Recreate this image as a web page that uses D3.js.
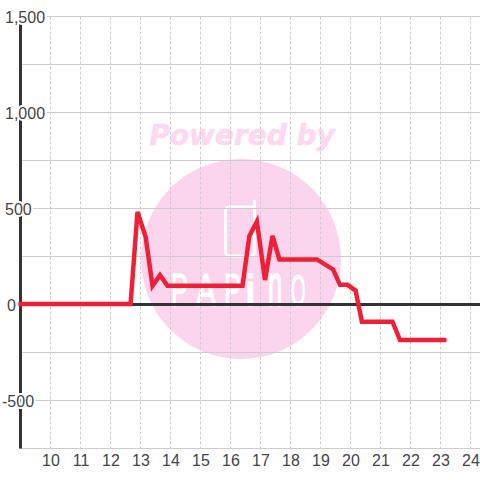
<!DOCTYPE html>
<html>
<head>
<meta charset="utf-8">
<script src="https://cdn.jsdelivr.net/npm/d3@7"></script>
<style>
  html, body { margin: 0; padding: 0; background: #fff; }
  svg { display: block; }
  text { font-family: "Liberation Sans", Arial, sans-serif; font-size: 16px; fill: #444; }
  .watermark-title { font-family: "DejaVu Sans", sans-serif; font-size: 28px; font-weight: bold; font-style: italic; fill: #fcd9f0; stroke: #fcd9f0; stroke-width: 0.6; }
  .watermark-name { font-size: 30px; fill: #fff; stroke: #fff; stroke-width: 0.8; }
</style>
</head>
<body>
<div id="chart"></div>
<script>
// values
var seriesX = [8.93, 12.67, 12.9, 13.17, 13.4, 13.65, 13.9, 16.4, 16.63, 16.88, 17.15, 17.4, 17.63, 18.88, 19.42, 19.65, 19.9, 20.17, 20.38, 21.4, 21.65, 23.2];
var seriesY = [0, 0, 480, 350, 95, 150, 95, 95, 355, 430, 125, 355, 232, 232, 180, 100, 100, 70, -92, -92, -188, -188];
var xTicks = [10, 11, 12, 13, 14, 15, 16, 17, 18, 19, 20, 21, 22, 23, 24];
var yGrid = [1500, 1250, 1000, 750, 500, 250, 0, -250, -500, -750];
var yTicks = [1500, 1000, 500, 0, -500];
var logoLetters = ["P", "A", "P", "i", "n", "O"];

// logo letters are stretched one by one: x, x scale, y scale
var logoX = [171, 196, 224, 245, 268, 291];
var logoSx = [0.85, 1, 0.85, 1.6, 0.85, 0.62];
var logoSy = [1.55, 1.55, 1.55, 1.45, 2.05, 1.5];

var width = 480, height = 480;

var x = d3.scaleLinear().domain([9, 24]).range([20.5, 470.5]);
var y = d3.scaleLinear().domain([1500, -750]).range([16.5, 448.5]);

var svg = d3.select("#chart").append("svg")
    .attr("width", width)
    .attr("height", height);

// watermark sits under the grid
var mark = svg.append("g");
mark.append("circle")
    .attr("cx", 241).attr("cy", 259).attr("r", 100)
    .attr("fill", "#fbd5ee");
mark.append("text")
    .attr("class", "watermark-title")
    .attr("x", 242).attr("y", 145)
    .attr("text-anchor", "middle")
    .text("Powered by");
mark.append("path")
    .attr("d", "M254.5 201 V252 Q254.5 256 250 256 H230 Q225.5 256 225.5 251 V212 Q225.5 207 230 207 H254.5")
    .attr("fill", "none")
    .attr("stroke", "#fff")
    .attr("stroke-width", 3)
    .attr("stroke-linecap", "round");
mark.selectAll(".watermark-name")
    .data(logoLetters)
    .enter().append("text")
    .attr("class", "watermark-name")
    .attr("transform", function(d, i) {
      return "translate(" + logoX[i] + ",306) scale(" + logoSx[i] + "," + logoSy[i] + ")";
    })
    .text(function(d) { return d; });

// grid
svg.append("g").selectAll("line")
    .data(yGrid)
    .enter().append("line")
    .attr("x1", 20).attr("x2", width)
    .attr("y1", function(d) { return y(d); })
    .attr("y2", function(d) { return y(d); })
    .attr("stroke", "#ccc");

svg.append("g").selectAll("line")
    .data(xTicks)
    .enter().append("line")
    .attr("x1", function(d) { return x(d); })
    .attr("x2", function(d) { return x(d); })
    .attr("y1", y(1500)).attr("y2", y(-750))
    .attr("stroke", "#ccc")
    .attr("stroke-dasharray", "3,2");

// axis lines
svg.append("line")
    .attr("x1", x(9)).attr("x2", x(9))
    .attr("y1", y(1500)).attr("y2", y(-750))
    .attr("stroke", "#333").attr("stroke-width", 3);
svg.append("line")
    .attr("x1", x(9)).attr("x2", width)
    .attr("y1", y(0)).attr("y2", y(0))
    .attr("stroke", "#333").attr("stroke-width", 3);

// tick labels
var xAxis = d3.axisBottom(x).tickValues(xTicks).tickSize(0).tickFormat(d3.format("d"));
var xG = svg.append("g").attr("transform", "translate(0,448)").call(xAxis);
xG.select(".domain").remove();
xG.selectAll("text")
    .attr("y", 18).attr("dy", null)
    .style("font-family", '"Liberation Sans", Arial, sans-serif')
    .style("font-size", "16px");

// plain hyphen on the negative label, not the d3 minus sign
var yFormat = d3.formatLocale({ decimal: ".", thousands: ",", grouping: [3], currency: ["", ""], minus: "-" }).format(",");
var yAxis = d3.axisLeft(y).tickValues(yTicks).tickSize(0).tickFormat(yFormat);
var yG = svg.append("g").call(yAxis);
yG.select(".domain").remove();
yG.selectAll("text")
    .attr("text-anchor", "start")
    .attr("x", function(d) { return d === 0 ? 7 : d < 0 ? 2 : 5; })
    .attr("dy", "0.36em")
    .style("font-family", '"Liberation Sans", Arial, sans-serif')
    .style("font-size", "16px")
    .attr("stroke", "#fff")
    .attr("stroke-width", 4)
    .attr("paint-order", "stroke");

// series
var line = d3.line()
    .x(function(d) { return x(d[0]); })
    .y(function(d) { return y(d[1]); });

svg.append("path")
    .datum(d3.zip(seriesX, seriesY))
    .attr("d", line)
    .attr("transform", "translate(0,-0.5)")
    .attr("fill", "none")
    .attr("stroke", "#f01f38")
    .attr("stroke-width", 4.5)
    .attr("stroke-linejoin", "miter");
</script>
</body>
</html>
